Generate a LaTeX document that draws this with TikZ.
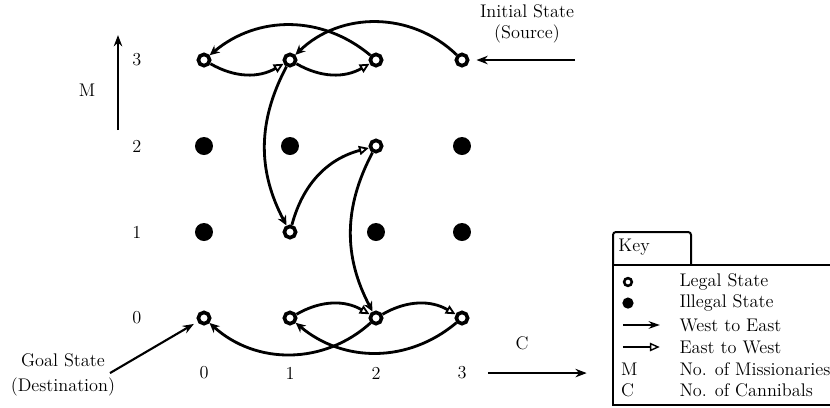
\documentclass[tikz,border=0pt]{standalone}
\usepackage{tikz}
\usetikzlibrary{arrows.meta,positioning}
\tikzset{
  legal/.style={circle,draw,line width=2.6pt,minimum size=8pt,inner sep=0pt},
  illegal/.style={circle,fill,minimum size=12.8pt,inner sep=0pt},
  we/.style={-{Stealth[length=7pt,width=6.5pt]},line width=2pt},
  ew/.style={-{Triangle[open,length=7pt,width=6.5pt,line width=1.3pt]},line width=2pt},
  axis/.style={-{Stealth[length=8pt,width=6pt]},line width=1.5pt},
  lbl/.style={font=\fontsize{13}{15}\selectfont,inner sep=1pt},
  keyline/.style={line width=1.4pt}
}
\begin{document}
\begin{tikzpicture}[x=2.15cm,y=2.15cm]
\useasboundingbox (-2.372,-1.035) rectangle (7.279,3.698);
% states (M,C)
\foreach \m/\c in {3/0,3/1,3/2,3/3,2/2,1/1,0/0,0/1,0/2,0/3}{\node[legal] (m\m c\c) at (\c,\m) {};}
\foreach \m/\c in {2/0,2/1,2/3,1/0,1/2,1/3}{\node[illegal] (m\m c\c) at (\c,\m) {};}
\foreach \i in {0,...,3}{\node[lbl] (col\i) at (\i,-0.64) {\i};\node[lbl] (row\i) at (-0.78,\i) {\i};}
% axes
\coordinate (mlo) at (-1.0,2.186);\coordinate (mhi) at (-1.0,3.29);
\draw[axis] (mlo) -- (mhi);
\node[lbl] (mlab) at (-1.36,2.65) {M};
\coordinate (clo) at (3.30,-0.64);\coordinate (chi) at (4.45,-0.64);
\draw[axis] (clo) -- (chi);
\node[lbl] (clab) at (3.70,-0.29) {C};
% source and goal
\node[lbl,align=center,font=\fontsize{13}{14.5}\selectfont] (init) at (3.756,3.42) {Initial State\\(Source)};
\coordinate (inittail) at (4.314,3.0);
\draw[axis,shorten >=5pt] (inittail) -- (m3c3);
\node[lbl,align=center,font=\fontsize{13}{18}\selectfont] (goal) at (-1.64,-0.66) {Goal State\\(Destination)};
\coordinate (goaltail) at (-1.093,-0.64);
\draw[axis,shorten >=3pt] (goaltail) -- (m0c0);
% moves
\draw[we] (m3c3) to[bend right=44] (m3c1);
\draw[we] (m3c2) to[bend right=40] (m3c0);
\draw[ew] (m3c0) to[bend right=30] (m3c1);
\draw[ew] (m3c1) to[bend right=30] (m3c2);
\draw[we] (m3c1) to[bend right=28] (m1c1);
\draw[ew] (m1c1) to[bend left=30] (m2c2);
\draw[we] (m2c2) to[bend right=28] (m0c2);
\draw[ew] (m0c1) to[bend left=30] (m0c2);
\draw[ew] (m0c2) to[bend left=30] (m0c3);
\draw[we] (m0c3) to[bend left=40] (m0c1);
\draw[we] (m0c2) to[bend left=42] (m0c0);
% key
\draw[keyline,rounded corners=2pt] (4.756,0.616) -- (4.756,1.0) -- (5.663,1.0) -- (5.663,0.616);
\draw[keyline] (7.4,0.616) -- (4.756,0.616) -- (4.756,-1.012) -- (7.4,-1.012);
\node[lbl,anchor=west] (keyt) at (4.80,0.82) {Key};
\node[legal,line width=1.8pt,minimum size=5.5pt] (klegal) at (4.93,0.419) {};
\node[illegal,minimum size=8pt] (killegal) at (4.93,0.174) {};
\coordinate (kwa) at (4.87,-0.081);\coordinate (kwb) at (5.30,-0.081);
\draw[-{Stealth[length=8pt,width=5.5pt]},line width=1.2pt] (kwa) -- (kwb);
\coordinate (kea) at (4.87,-0.337);\coordinate (keb) at (5.30,-0.337);
\draw[-{Triangle[open,length=7pt,width=6pt,line width=1pt]},line width=1.2pt] (kea) -- (keb);
\node[lbl,anchor=west] (km) at (4.83,-0.593) {M};
\node[lbl,anchor=west] (kc) at (4.83,-0.837) {C};
\foreach \t/\v in {Legal State/0.419,Illegal State/0.174,West to East/-0.081,East to West/-0.337,No. of Missionaries/-0.593,No. of Cannibals/-0.837}{\node[lbl,anchor=west] at (5.51,\v) {\t};}
\end{tikzpicture}
\end{document}
